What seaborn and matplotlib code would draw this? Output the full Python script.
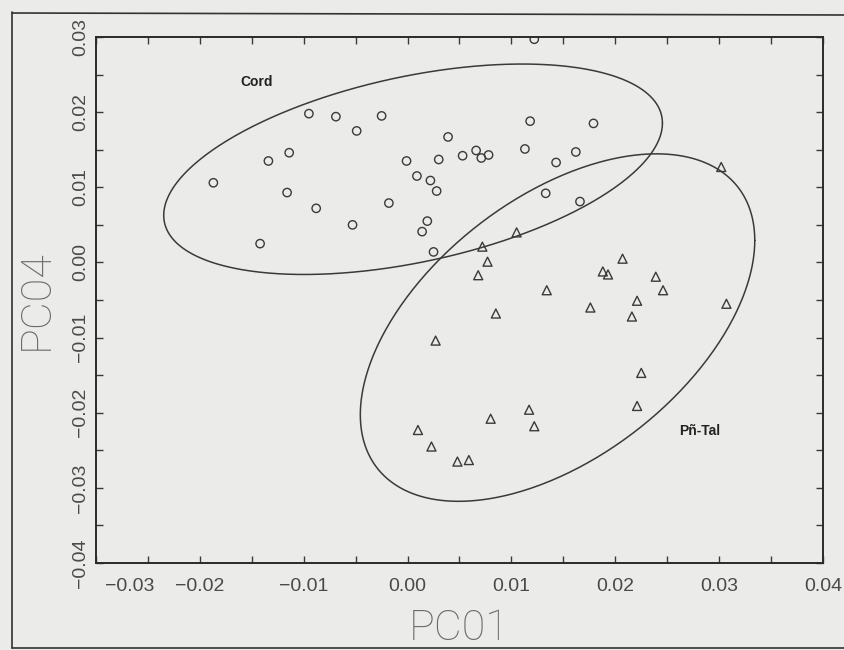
import numpy as np
import pandas as pd
import matplotlib
matplotlib.use("Agg")
import matplotlib.pyplot as plt
from matplotlib.lines import Line2D
from matplotlib.ticker import MultipleLocator, FixedLocator
from matplotlib.transforms import ScaledTranslation
import seaborn as sns

# ---------------- data ----------------
cord_x = [-0.0187, -0.0142, -0.0134, -0.0114, -0.0116, -0.0095, -0.0088, -0.0069,
          -0.0049, -0.0053, -0.0025, -0.0018, -0.0001, 0.0009, 0.0022, 0.0028,
          0.0019, 0.0014, 0.0025, 0.0030, 0.0039, 0.0053, 0.0066, 0.0071, 0.0078,
          0.0122, 0.0118, 0.0179, 0.0113, 0.0162, 0.0143, 0.0133, 0.0166]
cord_y = [0.0106, 0.0025, 0.0135, 0.0146, 0.0093, 0.0198, 0.0072, 0.0194,
          0.0175, 0.0050, 0.0195, 0.0079, 0.0135, 0.0115, 0.0109, 0.0095,
          0.0055, 0.0041, 0.0014, 0.0137, 0.0167, 0.0142, 0.0149, 0.0139, 0.0143,
          0.0297, 0.0188, 0.0185, 0.0151, 0.0147, 0.0133, 0.0092, 0.0081]

pntal_x = [0.0302, 0.0105, 0.0072, 0.0077, 0.0068, 0.0207, 0.0188, 0.0193,
           0.0239, 0.0134, 0.0085, 0.0246, 0.0221, 0.0176, 0.0216, 0.0307,
           0.0027, 0.0225, 0.0221, 0.0117, 0.0080, 0.0122, 0.0010, 0.0023,
           0.0048, 0.0059]
pntal_y = [0.0127, 0.0040, 0.0021, 0.0001, -0.0017, 0.0005, -0.0012, -0.0016,
           -0.0019, -0.0037, -0.0068, -0.0037, -0.0051, -0.0060, -0.0072, -0.0055,
           -0.0104, -0.0147, -0.0191, -0.0196, -0.0208, -0.0218, -0.0223, -0.0245,
           -0.0265, -0.0263]

groups = ["Cord", "Pñ-Tal"]
group_label_x = [-0.0145, 0.0281]
group_label_y = [0.0240, -0.0224]

# group ellipses: centre and two conjugate half-diameters (data units)
ellipse_center_x = [0.00053, 0.01444]
ellipse_center_y = [0.01240, -0.00867]
ellipse_a = [(0.02401, 0.00613), (0.01899, 0.01160)]
ellipse_b = [(0.0, 0.01259), (0.0, 0.02000)]

x_ticks = [-0.03, -0.02, -0.01, 0.00, 0.01, 0.02, 0.03, 0.04]
y_ticks = [-0.04, -0.03, -0.02, -0.01, 0.00, 0.01, 0.02, 0.03]
x_label = "PC01"
y_label = "PC04"

df = pd.DataFrame({
    "PC01": cord_x + pntal_x,
    "PC04": cord_y + pntal_y,
    "group": [groups[0]] * len(cord_x) + [groups[1]] * len(pntal_x),
})

# ---------------- style ----------------
bg = "#ebebe9"
ink = "#3a3a3a"
sns.set_style("white")
plt.rcParams["font.family"] = ["Liberation Sans", "DejaVu Sans"]

fig = plt.figure(figsize=(8.45, 6.5), dpi=100, facecolor=bg)
ax = fig.add_axes([96 / 845, 87 / 650, 727 / 845, 526 / 650])
ax.set_facecolor(bg)

markers = {"Cord": "o", "Pñ-Tal": "^"}
sizes = {"Cord": 36, "Pñ-Tal": 42}
for g in groups:
    sub = df[df["group"] == g]
    sns.scatterplot(data=sub, x="PC01", y="PC04", marker=markers[g], s=sizes[g],
                    facecolors="none", edgecolor=ink, linewidth=1.0, ax=ax,
                    legend=False)

t = np.linspace(0, 2 * np.pi, 400)
for cx, cy, a, b in zip(ellipse_center_x, ellipse_center_y, ellipse_a, ellipse_b):
    ex = cx + a[0] * np.cos(t) + b[0] * np.sin(t)
    ey = cy + a[1] * np.cos(t) + b[1] * np.sin(t)
    ax.plot(ex, ey, color=ink, lw=1.1)

for g, lx, ly in zip(groups, group_label_x, group_label_y):
    ax.text(lx, ly, g, ha="center", va="center", fontsize=10, fontweight="bold",
            color="#222222")

ax.set_xlim(-0.030, 0.040)
ax.set_ylim(-0.040, 0.030)
ax.xaxis.set_major_locator(FixedLocator(x_ticks))
ax.yaxis.set_major_locator(FixedLocator(y_ticks))
ax.xaxis.set_minor_locator(MultipleLocator(0.005))
ax.yaxis.set_minor_locator(MultipleLocator(0.005))
ax.set_xticklabels([f"{v:.2f}".replace("-", "\u2212") for v in x_ticks])
ax.set_yticklabels([f"{v:.2f}".replace("-", "\u2212") for v in y_ticks],
                   rotation=90, va="center")
ax.tick_params(which="both", direction="in", length=5, width=1, color=ink,
               top=True, right=True, bottom=True, left=True)
ax.tick_params(axis="x", which="major", labelsize=14, labelcolor="#4a4a4a", pad=11)
ax.tick_params(axis="y", which="major", labelsize=14, labelcolor="#4a4a4a", pad=5)
for s in ax.spines.values():
    s.set_color("#2a2a2a")
    s.set_linewidth(1.4)

# the first x label sits to the right of the corner, clear of the y label
first = ax.get_xticklabels()[0]
first.set_transform(first.get_transform() + ScaledTranslation(34 / 100, 0, fig.dpi_scale_trans))

lab_font = dict(family=["Roboto", "DejaVu Sans"], fontweight="light",
                fontsize=31, color="#6a6a6a")
ax.set_xlabel(x_label, labelpad=9, **lab_font)
ax.set_ylabel(y_label, labelpad=11, **lab_font)

# outer frame of the scanned page figure
fx = lambda px: px / 845
fy = lambda py: 1 - py / 650
fig.add_artist(Line2D([fx(12), fx(12)], [fy(12), fy(648)], color="#333", lw=1.2))
fig.add_artist(Line2D([fx(12), 1.0], [fy(13), fy(15)], color="#333", lw=1.2))
fig.add_artist(Line2D([fx(12), 1.0], [fy(648), fy(648)], color="#333", lw=1.2))

fig.savefig("out.png", dpi=100, facecolor=bg)
